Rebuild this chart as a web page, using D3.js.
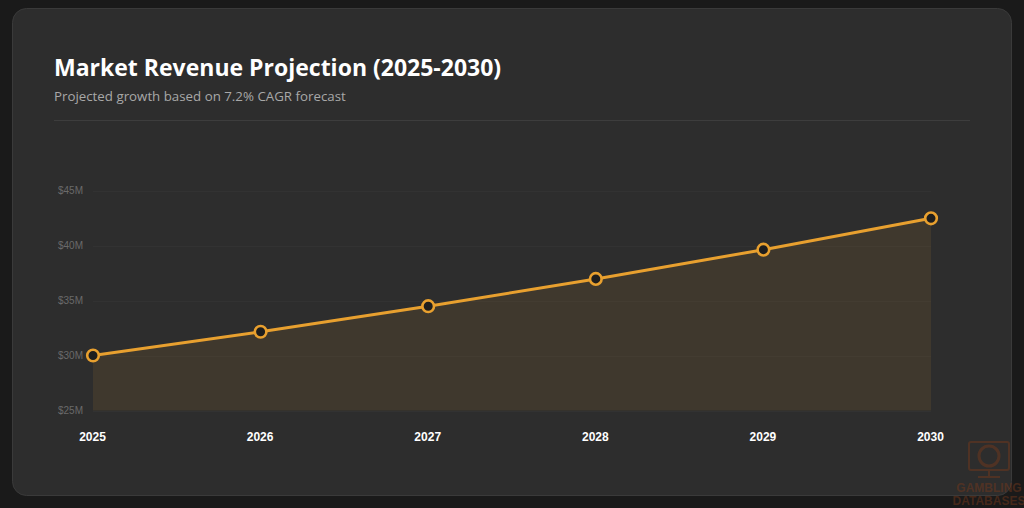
<!DOCTYPE html>
<html><head><meta charset="utf-8">
<script src="https://cdn.jsdelivr.net/npm/d3@7"></script>
<style>
html,body{margin:0;padding:0;background:#1a1a1a;width:1024px;height:508px;overflow:hidden;}
svg{display:block;}
</style></head>
<body>
<svg id="c" width="1024" height="508"></svg>
<script>
const years = ["2025","2026","2027","2028","2029","2030"];
const revenue = [30.0, 32.16, 34.48, 36.96, 39.62, 42.47];
const yTicks = [25, 30, 35, 40, 45];
const title = "Market Revenue Projection (2025-2030)";
const subtitle = "Projected growth based on 7.2% CAGR forecast";

const svg = d3.select("#c");
const orange = "#e8a02f";

svg.append("rect").attr("x",12.5).attr("y",8.5).attr("width",999).attr("height",487)
  .attr("rx",14).attr("fill","#2d2d2d").attr("stroke","#3a3a3a");

svg.append("text").attr("x",54).attr("y",76).text(title)
  .attr("fill","#ffffff").attr("font-family","'Open Sans', sans-serif")
  .attr("font-weight",700).attr("font-size",23);
svg.append("text").attr("x",54).attr("y",101).text(subtitle)
  .attr("fill","#a8a8a8").attr("font-family","'Open Sans', sans-serif")
  .attr("font-size",13.3);
svg.append("line").attr("x1",54).attr("x2",970).attr("y1",120.5).attr("y2",120.5)
  .attr("stroke","#3d3d3d");

const x = d3.scalePoint().domain(years).range([93,931]);
const y = d3.scaleLinear().domain([25,45]).range([410.5,190.5]);

const g = svg.append("g");
// grid
g.selectAll(".grid").data(yTicks).join("line")
  .attr("x1",93).attr("x2",931)
  .attr("y1",d=>Math.round(y(d))+0.5).attr("y2",d=>Math.round(y(d))+0.5)
  .attr("stroke","#323232");

// y axis labels
const yAxis = d3.axisLeft(y).tickValues(yTicks).tickSize(0).tickPadding(0)
  .tickFormat(d=>"$"+d+"M");
const ya = svg.append("g").attr("transform","translate(83,0)").call(yAxis);
ya.select(".domain").remove();
ya.selectAll("text").attr("fill","#6a6a6a").attr("font-family","'Liberation Sans', Arial, sans-serif").attr("font-size",10);

// x axis labels
const xAxis = d3.axisBottom(x).tickSize(0).tickPadding(0);
const xa = svg.append("g").attr("transform","translate(-1,432)").call(xAxis);
xa.select(".domain").remove();
xa.selectAll("text").attr("fill","#ffffff").attr("font-family","'Liberation Sans', Arial, sans-serif")
  .attr("font-weight",700).attr("font-size",12);

const data = years.map((yr,i)=>({yr, v:revenue[i]}));
const area = d3.area().x(d=>x(d.yr)).y0(y(25)).y1(d=>y(d.v));
g.append("path").datum(data).attr("d",area).attr("fill","#e69b2e").attr("fill-opacity",0.1);
const line = d3.line().x(d=>x(d.yr)).y(d=>y(d.v));
g.append("path").datum(data).attr("d",line).attr("fill","none").attr("stroke",orange).attr("stroke-width",3);
g.selectAll("circle").data(data).join("circle")
  .attr("cx",d=>x(d.yr)).attr("cy",d=>y(d.v)).attr("r",5.8)
  .attr("fill","#1e1e1e").attr("stroke",orange).attr("stroke-width",2.6);

// watermark
const wm = svg.append("g").attr("opacity",0.45);
wm.append("rect").attr("x",969).attr("y",442).attr("width",40).attr("height",28).attr("rx",2)
  .attr("fill","none").attr("stroke","#7a3a1a").attr("stroke-width",2);
wm.append("circle").attr("cx",989).attr("cy",456).attr("r",10).attr("fill","none").attr("stroke","#7a3a1a").attr("stroke-width",3);
wm.append("line").attr("x1",989).attr("x2",989).attr("y1",470).attr("y2",476).attr("stroke","#7a3a1a").attr("stroke-width",2);
wm.append("line").attr("x1",978).attr("x2",1000).attr("y1",477).attr("y2",477).attr("stroke","#7a3a1a").attr("stroke-width",2);
wm.append("text").attr("x",989).attr("y",492).attr("text-anchor","middle").text("GAMBLING")
  .attr("fill","#7a3a1a").attr("font-family","'Liberation Sans', Arial, sans-serif").attr("font-weight",700).attr("font-size",12);
wm.append("text").attr("x",989).attr("y",505).attr("text-anchor","middle").text("DATABASES")
  .attr("fill","#7a3a1a").attr("font-family","'Liberation Sans', Arial, sans-serif").attr("font-weight",700).attr("font-size",12);
</script>
</body></html>
